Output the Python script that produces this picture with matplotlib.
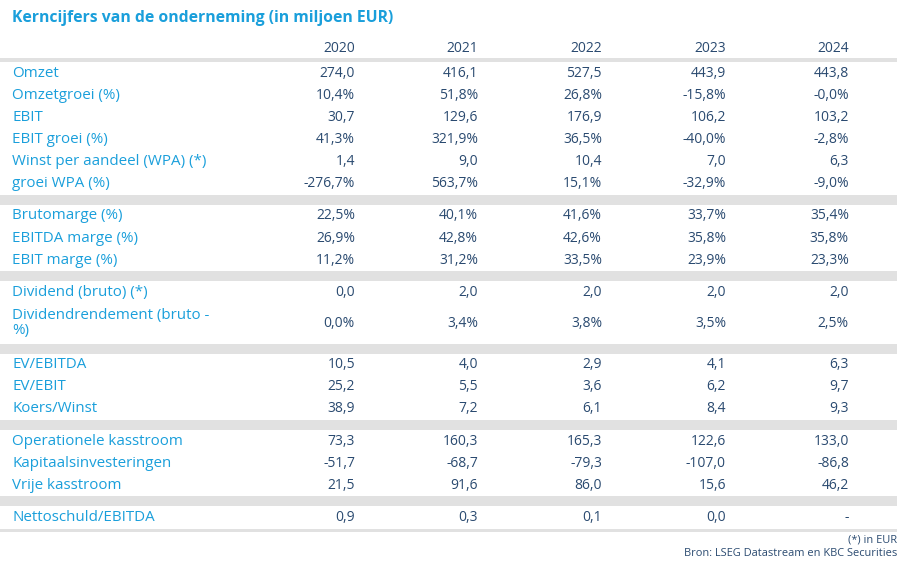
import matplotlib
matplotlib.use("Agg")
import matplotlib.pyplot as plt
from matplotlib.patches import Rectangle

plt.rcParams['font.family'] = ['Open Sans', 'DejaVu Sans']

title = "Kerncijfers van de onderneming (in miljoen EUR)"
years = ["2020", "2021", "2022", "2023", "2024"]

# groups of rows: (label, values, is_percent)
groups = [
    [
        ("Omzet", [274.0, 416.1, 527.5, 443.9, 443.8], False),
        ("Omzetgroei (%)", [10.4, 51.8, 26.8, -15.8, -0.0], True),
        ("EBIT", [30.7, 129.6, 176.9, 106.2, 103.2], False),
        ("EBIT groei (%)", [41.3, 321.9, 36.5, -40.0, -2.8], True),
        ("Winst per aandeel (WPA) (*)", [1.4, 9.0, 10.4, 7.0, 6.3], False),
        ("groei WPA (%)", [-276.7, 563.7, 15.1, -32.9, -9.0], True),
    ],
    [
        ("Brutomarge (%)", [22.5, 40.1, 41.6, 33.7, 35.4], True),
        ("EBITDA marge (%)", [26.9, 42.8, 42.6, 35.8, 35.8], True),
        ("EBIT marge (%)", [11.2, 31.2, 33.5, 23.9, 23.3], True),
    ],
    [
        ("Dividend (bruto) (*)", [0.0, 2.0, 2.0, 2.0, 2.0], False),
        ("Dividendrendement (bruto -\n%)", [0.0, 3.4, 3.8, 3.5, 2.5], True),
    ],
    [
        ("EV/EBITDA", [10.5, 4.0, 2.9, 4.1, 6.3], False),
        ("EV/EBIT", [25.2, 5.5, 3.6, 6.2, 9.7], False),
        ("Koers/Winst", [38.9, 7.2, 6.1, 8.4, 9.3], False),
    ],
    [
        ("Operationele kasstroom", [73.3, 160.3, 165.3, 122.6, 133.0], False),
        ("Kapitaalsinvesteringen", [-51.7, -68.7, -79.3, -107.0, -86.8], False),
        ("Vrije kasstroom", [21.5, 91.6, 86.0, 15.6, 46.2], False),
    ],
    [
        ("Nettoschuld/EBITDA", [0.9, 0.3, 0.1, 0.0, None], False),
    ],
]
footnote = "(*) in EUR"
source = "Bron: LSEG Datastream en KBC Securities"

LABEL_C = "#1a9fdb"
VALUE_C = "#2a4a70"
GRAY = "#e1e1e1"

W, H = 916, 567
fig = plt.figure(figsize=(W / 100, H / 100), dpi=100)
ax = fig.add_axes([0, 0, 1, 1])
ax.set_xlim(0, W)
ax.set_ylim(H, 0)
ax.axis("off")


def fmt(v, pct):
    if v is None:
        return "-"
    s = f"{v:.1f}".replace(".", ",")
    return s + ("%" if pct else "")


left, right = 0, 897
label_x = 12
col_x = [355, 478, 602, 726, 849]
fs_val = 10
fs_lab = 10.9

ax.text(label_x, 18, title, color=LABEL_C, fontsize=11.3, fontweight="bold",
        ha="left", va="center")
for x, yv in zip(col_x, years):
    ax.text(x, 48, yv, color=VALUE_C, fontsize=fs_val, ha="right", va="center")

ax.add_patch(Rectangle((left, 58), right - left, 4, color=GRAY, lw=0))

row_h = 22.15
band_h = 10
y = 62
for gi, grp in enumerate(groups):
    for label, vals, pct in grp:
        two = "\n" in label
        h = 40 if two else row_h
        cy = y + h / 2
        ax.text(label_x, cy - (0.5 if two else 0), label, color=LABEL_C,
                fontsize=fs_lab, ha="left", va="center", linespacing=1.05)
        for x, v in zip(col_x, vals):
            ax.text(x, cy, fmt(v, pct), color=VALUE_C, fontsize=fs_val,
                    ha="right", va="center")
        y += h
    if gi < len(groups) - 1:
        ax.add_patch(Rectangle((left, y), right - left, band_h, color=GRAY, lw=0))
        y += band_h
ax.add_patch(Rectangle((left, y), right - left, 3, color=GRAY, lw=0))

ax.text(right, 540, footnote, color=VALUE_C, fontsize=7.9, ha="right", va="center")
ax.text(right, 553, source, color=VALUE_C, fontsize=7.9, ha="right", va="center")

fig.savefig("out.png", dpi=100)
